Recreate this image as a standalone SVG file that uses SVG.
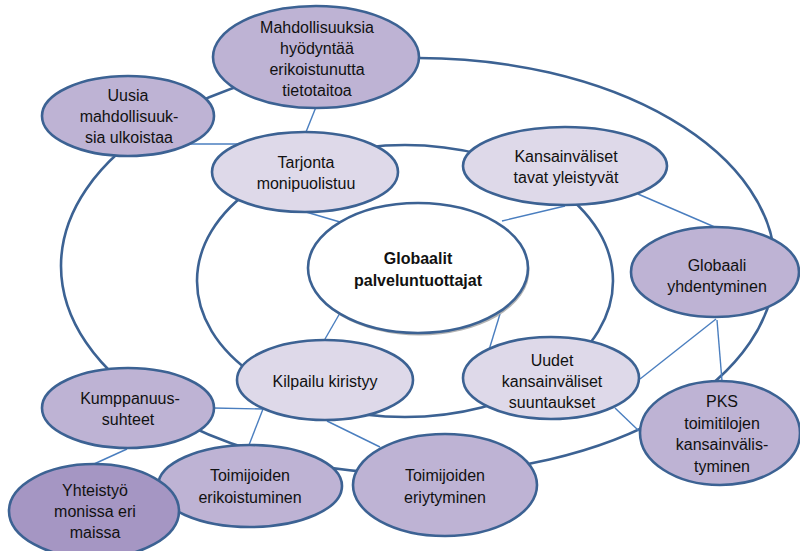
<svg xmlns="http://www.w3.org/2000/svg" width="800" height="551" viewBox="0 0 800 551">
  <style>
    .ring { fill: none; stroke: #3c6293; stroke-width: 2.6; }
    .link { fill: none; stroke: #4a7ebf; stroke-width: 1.4; }
    .node { stroke: #3c6293; stroke-width: 2.6; }
    .dark { fill: #beb3d4; }
    .light { fill: #ded9e9; }
    .deep { fill: #a596c3; }
    .core { fill: #ffffff; }
    text { font-family: "Liberation Sans", Arial, sans-serif; font-size: 16px; fill: #111; text-anchor: middle; }
    .bold { font-weight: bold; }
  </style>
  <defs>
    <filter id="soft" x="-10%" y="-10%" width="120%" height="120%">
      <feGaussianBlur stdDeviation="0.6"/>
    </filter>
  </defs>

  <rect width="800" height="551" fill="#ffffff"/>

  <!-- rings -->
  <g id="rings">
    <ellipse class="ring" cx="418" cy="266" rx="357" ry="208"/>
    <ellipse class="ring" cx="405" cy="281" rx="208" ry="136"/>
  </g>

  <!-- connectors -->
  <g id="connectors">
    <line class="link" x1="316" y1="107" x2="306" y2="132"/>
    <line class="link" x1="188" y1="144" x2="240" y2="144"/>
    <line class="link" x1="306" y1="212" x2="340" y2="222"/>
    <line class="link" x1="565" y1="206" x2="502" y2="221"/>
    <line class="link" x1="638" y1="194" x2="717" y2="228"/>
    <line class="link" x1="340" y1="313" x2="325" y2="339"/>
    <line class="link" x1="500" y1="314" x2="489" y2="350"/>
    <line class="link" x1="716" y1="319" x2="640" y2="379"/>
    <line class="link" x1="717" y1="320" x2="722" y2="381"/>
    <line class="link" x1="615" y1="408" x2="639" y2="431"/>
    <line class="link" x1="213" y1="408" x2="263" y2="409"/>
    <line class="link" x1="263" y1="409" x2="249" y2="445"/>
    <line class="link" x1="327" y1="421" x2="380" y2="447"/>
    <line class="link" x1="127" y1="449" x2="94" y2="464"/>
  </g>

  <!-- centre -->
  <g id="globaalit">
    <ellipse cx="419.5" cy="270.5" rx="110" ry="65" fill="#9a9a9a" opacity="0.75" filter="url(#soft)"/>
    <ellipse class="node core" cx="418" cy="268" rx="110" ry="65"/>
    <text class="bold" x="418" y="264">Globaalit</text>
    <text class="bold" x="418" y="286">palveluntuottajat</text>
  </g>

  <g id="mahdollisuuksia">
    <ellipse class="node dark" cx="316" cy="57" rx="103" ry="51"/>
    <text x="317" y="33">Mahdollisuuksia</text>
    <text x="317" y="54">hyödyntää</text>
    <text x="317" y="75">erikoistunutta</text>
    <text x="317" y="96">tietotaitoa</text>
  </g>

  <g id="uusia">
    <ellipse class="node dark" cx="128" cy="116" rx="86" ry="40"/>
    <text x="128" y="101">Uusia</text>
    <text x="129" y="122">mahdollisuuk-</text>
    <text x="129" y="143">sia ulkoistaa</text>
  </g>

  <g id="tarjonta">
    <ellipse class="node light" cx="305" cy="172" rx="93" ry="40"/>
    <text x="306" y="168">Tarjonta</text>
    <text x="306" y="189">monipuolistuu</text>
  </g>

  <g id="kansainvaliset-tavat">
    <ellipse class="node light" cx="565" cy="166" rx="102" ry="39"/>
    <text x="566" y="162">Kansainväliset</text>
    <text x="566" y="183">tavat yleistyvät</text>
  </g>

  <g id="globaali">
    <ellipse class="node dark" cx="715" cy="272" rx="84" ry="45"/>
    <text x="717" y="271">Globaali</text>
    <text x="717" y="292">yhdentyminen</text>
  </g>

  <g id="kilpailu">
    <ellipse class="node light" cx="325" cy="380" rx="88" ry="40"/>
    <text x="325" y="387">Kilpailu kiristyy</text>
  </g>

  <g id="uudet">
    <ellipse class="node light" cx="551" cy="378" rx="88" ry="41"/>
    <text x="552" y="366">Uudet</text>
    <text x="552" y="387">kansainväliset</text>
    <text x="552" y="408">suuntaukset</text>
  </g>

  <g id="pks">
    <ellipse class="node dark" cx="720" cy="433" rx="80" ry="52"/>
    <text x="722" y="407">PKS</text>
    <text x="722" y="429">toimitilojen</text>
    <text x="722" y="450">kansainvälis-</text>
    <text x="722" y="472">tyminen</text>
  </g>

  <g id="kumppanuus">
    <ellipse class="node dark" cx="128" cy="408" rx="86" ry="40"/>
    <text x="130" y="404">Kumppanuus-</text>
    <text x="128" y="425">suhteet</text>
  </g>

  <g id="eriytyminen">
    <ellipse class="node dark" cx="445" cy="485" rx="92" ry="51"/>
    <text x="445" y="481">Toimijoiden</text>
    <text x="445" y="503">eriytyminen</text>
  </g>

  <g id="erikoistuminen">
    <ellipse class="node dark" cx="250" cy="486" rx="92" ry="41"/>
    <text x="250" y="481">Toimijoiden</text>
    <text x="250" y="503">erikoistuminen</text>
  </g>

  <g id="yhteistyo">
    <ellipse class="node deep" cx="94" cy="511" rx="85" ry="47"/>
    <text x="95" y="496">Yhteistyö</text>
    <text x="95" y="517">monissa eri</text>
    <text x="95" y="538">maissa</text>
  </g>
</svg>
